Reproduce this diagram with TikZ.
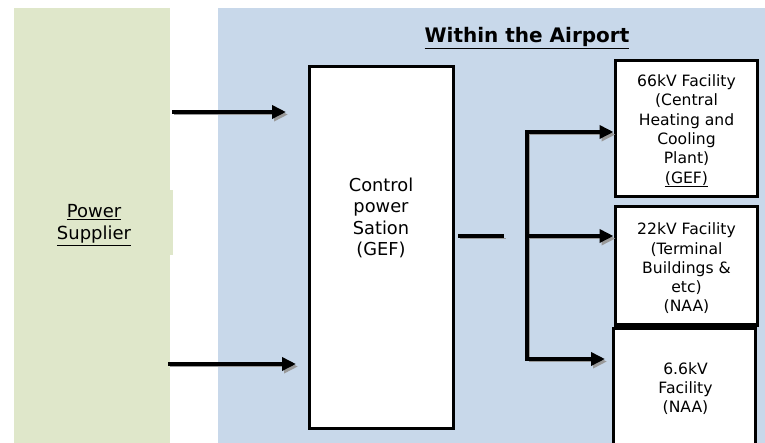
\documentclass[tikz,border=0pt]{standalone}
\usepackage{fontspec}
\setmainfont{DejaVu Sans}
\usetikzlibrary{arrows.meta}
\definecolor{grn}{HTML}{DFE7CA}
\definecolor{blu}{HTML}{C8D8EA}
\begin{document}
\begin{tikzpicture}[x=1pt,y=-1pt,
  band/.style={draw=none, inner sep=0pt, outer sep=0pt},
  facbox/.style={draw, line width=3pt, fill=white, inner sep=0pt},
  boxtext/.style={align=center, inner sep=0pt, font=\fontsize{15.6}{19.3}\selectfont},
  shadowed/.style={preaction={draw=black!40, transform canvas={shift={(2pt,-2.5pt)}}}},
  conn/.style={line width=4pt, shadowed},
  arr/.style={conn, -{Triangle[length=14pt,width=13pt]}},
]
\useasboundingbox (0,0) rectangle (765,443);
\clip (0,0) rectangle (765,443);
% bands
\node[band, fill=grn, minimum width=156pt, minimum height=435pt] (green) at (92,225.5) {};
\node[band, fill=grn, minimum width=159pt, minimum height=65pt] (psbox) at (93.5,222.5) {};
\node[align=center, inner sep=0pt, font=\fontsize{18}{22}\selectfont] (ps) at (94,225) {\underline{Power}\\\underline{Supplier}};
\node[band, fill=blu, minimum width=547pt, minimum height=435pt] (blue) at (491.5,225.5) {};
\node[anchor=base, inner sep=0pt, font=\fontsize{20}{22}\selectfont\bfseries] (title) at (527,43) {\underline{Within the Airport}};
% control station
\node[facbox, minimum width=144pt, minimum height=361pt] (ctrl) at (381,247.5) {};
\node[align=center, inner sep=0pt, font=\fontsize{17.8}{21.3}\selectfont] (ctrlt) at (381,218) {Control\\power\\Sation\\(GEF)};
% facilities
\node[facbox, minimum width=142pt, minimum height=136pt] (f66) at (686,129) {};
\node[boxtext] (f66t) at (686.5,131) {66kV Facility\\(Central\\Heating and\\Cooling\\Plant)\\\underline{(GEF)}};
\node[facbox, minimum width=142pt, minimum height=118pt] (f22) at (686,266) {};
\node[boxtext] (f22t) at (686.5,268.5) {22kV Facility\\(Terminal\\Buildings \&\\etc)\\(NAA)};
\node[facbox, minimum width=142pt, minimum height=140pt] (f6) at (684,398) {};
\node[boxtext] (f6t) at (685.5,388.5) {6.6kV\\Facility\\(NAA)};
% connector coordinates
\coordinate (a1s) at (172,112);
\coordinate (a1e) at (286,112);
\coordinate (a2s) at (168,364);
\coordinate (a2e) at (296,364);
\coordinate (cs) at (458,236);
\coordinate (ce) at (504,236);
\coordinate (bt) at (527,132);
\coordinate (bm) at (527,236);
\coordinate (bb) at (527,359);
\coordinate (t3) at (605,359);
% connectors
\draw[arr] (a1s) -- (a1e);
\draw[arr] (a2s) -- (a2e);
\draw[conn] (cs) -- (ce);
\draw[conn, line width=4.5pt, line cap=rect] (bt) -- (bb);
\draw[arr] (bt) -- (bt -| f66.west);
\draw[arr] (bm) -- (bm -| f22.west);
\draw[arr] (bb) -- (t3);
\end{tikzpicture}
\end{document}
